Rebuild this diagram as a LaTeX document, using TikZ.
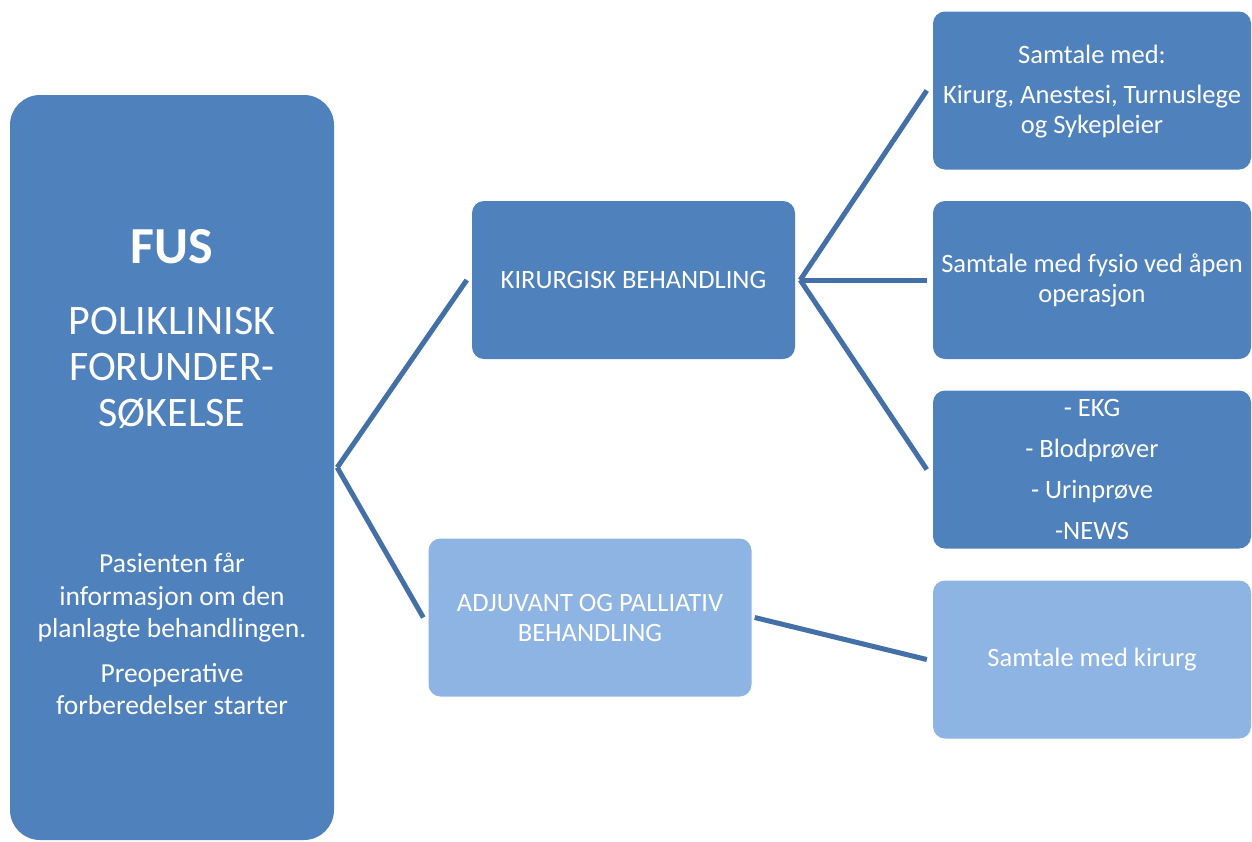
\documentclass[tikz,border=0pt]{standalone}
\usepackage{fontspec}
\setmainfont{Carlito}
\usepackage{tikz}
\usetikzlibrary{shapes,arrows,positioning}

\definecolor{fusblue}{HTML}{4F81BD}
\definecolor{fuslight}{HTML}{8EB4E3}
\definecolor{fusline}{HTML}{4470A8}

\begin{document}
\begin{tikzpicture}[x=1pt, y=-1pt]
			\tikzstyle{Box}		= [rectangle, rounded corners=12pt, fill=fusblue, text=white, align=center, inner sep=0pt, minimum width=323pt, minimum height=158pt, font=\fontsize{26.5}{30}\selectfont]
			\tikzstyle{Main}	= [Box, rounded corners=30pt, minimum width=324pt, minimum height=745pt]
			\tikzstyle{Light}	= [fill=fuslight]
			\tikzstyle{Side}	= [minimum width=318pt]
			\tikzstyle{Label}	= [text=white, align=center, inner sep=0pt]
			\tikzstyle{Link}	= [line width=5pt, fusline]

			\useasboundingbox (0,0) rectangle (1252,841);

			\node (fus) at (172,467.5) [Main] {};
			\node (fushead) at (172,247) [Label, font=\fontsize{52}{56}\selectfont\bfseries] {FUS};
			\node (fustitle) at (172,368) [Label, font=\fontsize{42}{46}\selectfont] {POLIKLINISK\\FORUNDER-\\SØKELSE};
			\node (fusinfo) at (172,634) [Label, font=\fontsize{27.5}{32.5}\selectfont] {Pasienten får\\informasjon om den\\planlagte behandlingen.\\[12pt]Preoperative\\forberedelser starter};

			\node (kir) at (633.5,280) [Box] {KIRURGISK BEHANDLING};
			\node (adj) at (590,617.5) [Box, Light] {ADJUVANT OG PALLIATIV\\BEHANDLING};

			\node (samtale) at (1092,90.5) [Box, Side, text depth=2pt] {Samtale med:\\[10pt]Kirurg, Anestesi, Turnuslege\\og Sykepleier};
			\node (fysio) at (1092,280) [Box, Side] {Samtale med fysio ved åpen\\operasjon};
			\node (prover) at (1092,469.5) [Box, Side] {- EKG\\[11pt]- Blodprøver\\[11pt]- Urinprøve\\[11pt]-NEWS};
			\node (kirurg) at (1092,659.5) [Box, Side, Light] {Samtale med kirurg};

			\draw [-] ([xshift=3pt]fus.east) to ([xshift=-5pt]kir.west) [Link];
			\draw [-] ([xshift=3pt]fus.east) to ([xshift=-5pt]adj.west) [Link];
			\draw [-] ([xshift=5pt]kir.east) to ([xshift=-6pt]samtale.west) [Link];
			\draw [-] ([xshift=5pt]kir.east) to ([xshift=-6pt]fysio.west) [Link];
			\draw [-] ([xshift=5pt]kir.east) to ([xshift=-6pt]prover.west) [Link];
			\draw [-] ([xshift=3pt]adj.east) to ([xshift=-6pt]kirurg.west) [Link];
		\end{tikzpicture}
\end{document}
